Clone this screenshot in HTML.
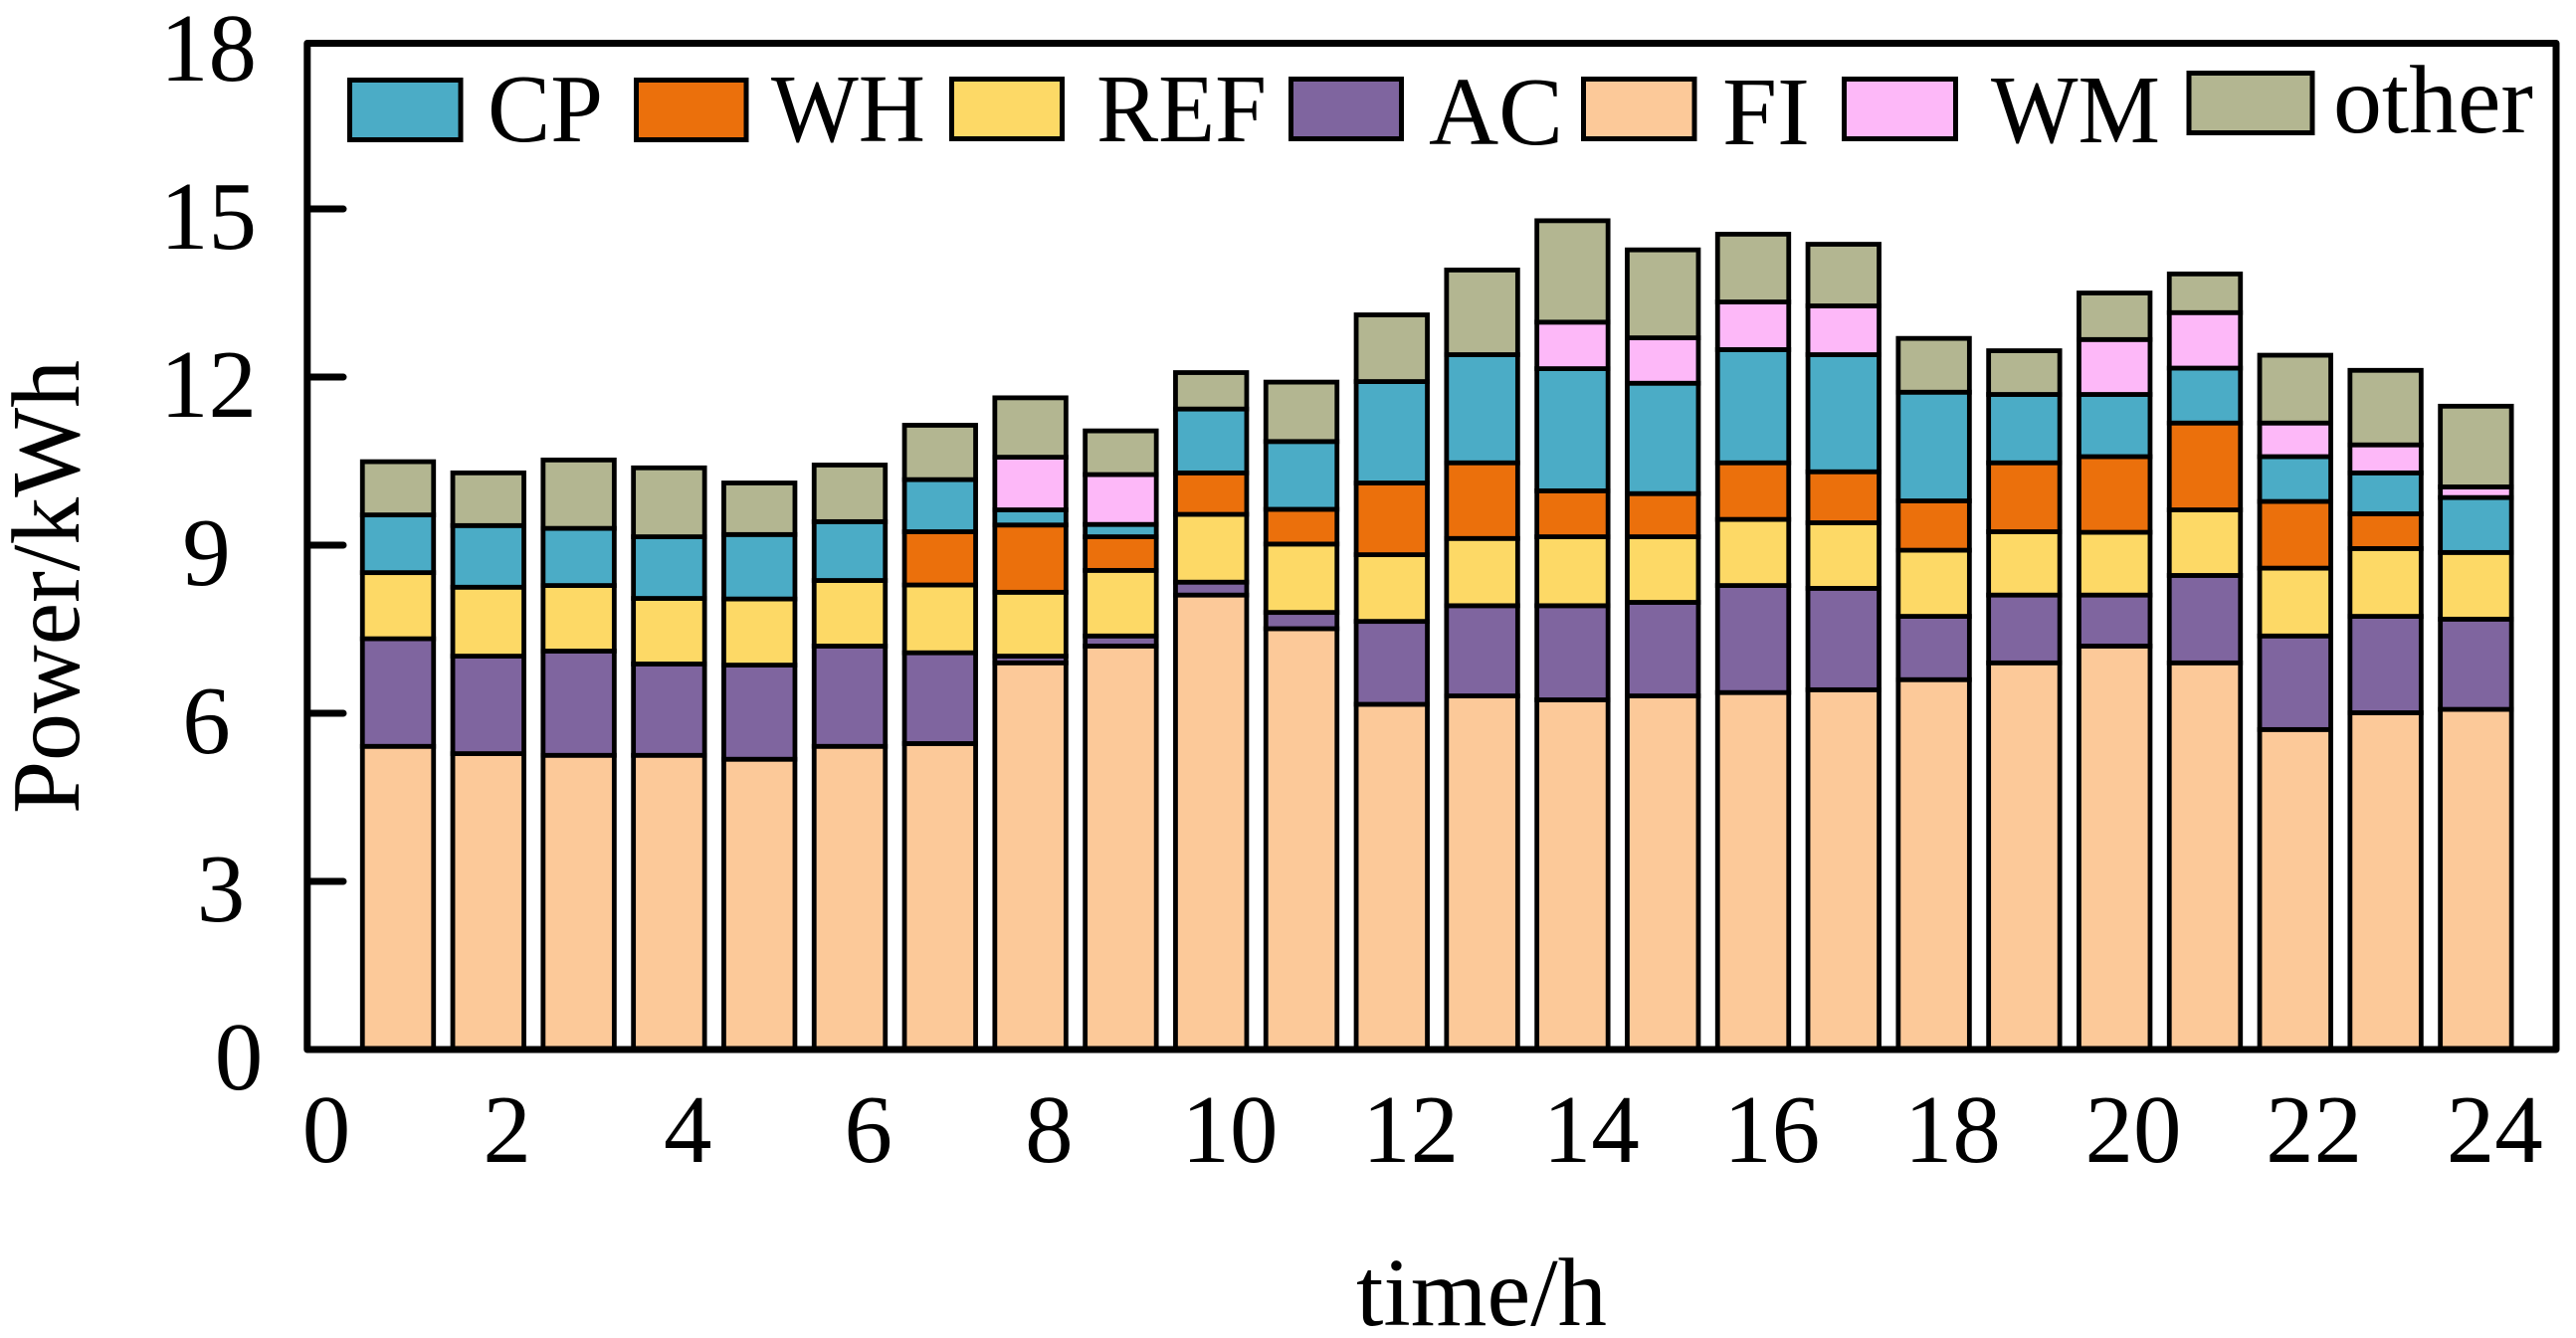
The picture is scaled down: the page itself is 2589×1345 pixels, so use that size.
<!DOCTYPE html>
<html lang="en">
<head>
<meta charset="utf-8">
<title>Stacked hourly power chart</title>
<style>
html,body{margin:0;padding:0;background:#fff;width:2589px;height:1345px;overflow:hidden}
svg{display:block}
text{font-family:"Liberation Serif",serif;font-size:97px;fill:#000}
</style>
</head>
<body>
<svg id="chart" xmlns="http://www.w3.org/2000/svg" width="2589" height="1345" viewBox="0 0 2589 1345">
  <g id="bars"></g>
  <g id="ticks"></g>
  <rect x="308.8" y="43.5" width="2260.2" height="1011.5" fill="none" stroke="#000" stroke-width="7" stroke-linejoin="round"/>
  <g id="tick-labels"></g>
  <text transform="translate(79 818) rotate(-90)" textLength="456" lengthAdjust="spacingAndGlyphs">Power/kWh</text>
  <text x="1363" y="1332" textLength="252" lengthAdjust="spacingAndGlyphs">time/h</text>
  <g>
    <g>
      <rect x="351.5" y="80.5" width="111.5" height="60" fill="#4BACC6" stroke="#000" stroke-width="5"/>
      <text x="490" y="142" textLength="116" lengthAdjust="spacingAndGlyphs">CP</text>
    </g>
    <g>
      <rect x="639.5" y="80.5" width="110.5" height="60" fill="#EB700C" stroke="#000" stroke-width="5"/>
      <text x="775" y="142" textLength="155" lengthAdjust="spacingAndGlyphs">WH</text>
    </g>
    <g>
      <rect x="956.5" y="79.5" width="111" height="60" fill="#FDD966" stroke="#000" stroke-width="5"/>
      <text x="1102" y="142" textLength="171" lengthAdjust="spacingAndGlyphs">REF</text>
    </g>
    <g>
      <rect x="1297.5" y="79.5" width="111" height="60" fill="#7F659F" stroke="#000" stroke-width="5"/>
      <text x="1436" y="145" textLength="135" lengthAdjust="spacingAndGlyphs">AC</text>
    </g>
    <g>
      <rect x="1591.5" y="79.5" width="111.5" height="60" fill="#FCC999" stroke="#000" stroke-width="5"/>
      <text x="1731" y="145" textLength="88" lengthAdjust="spacingAndGlyphs">FI</text>
    </g>
    <g>
      <rect x="1853.5" y="79.5" width="112" height="60" fill="#FDB8F8" stroke="#000" stroke-width="5"/>
      <text x="2001" y="143" textLength="170" lengthAdjust="spacingAndGlyphs">WM</text>
    </g>
    <g>
      <rect x="2200" y="73.5" width="124" height="60" fill="#B3B691" stroke="#000" stroke-width="5"/>
      <text x="2345" y="133" textLength="201" lengthAdjust="spacingAndGlyphs">other</text>
    </g>
  </g>
</svg>
<script>
const hours = [1,2,3,4,5,6,7,8,9,10,11,12,13,14,15,16,17,18,19,20,21,22,23,24];
const seriesFI = [5.41,5.28,5.25,5.25,5.18,5.41,5.46,6.90,7.20,8.11,7.51,6.16,6.31,6.24,6.31,6.37,6.42,6.60,6.90,7.20,6.90,5.71,6.01,6.07];
const seriesAC = [1.92,1.74,1.86,1.63,1.68,1.79,1.62,0.12,0.18,0.23,0.29,1.48,1.61,1.68,1.67,1.91,1.81,1.13,1.21,0.91,1.56,1.67,1.72,1.61];
const seriesREF = [1.18,1.23,1.17,1.17,1.18,1.17,1.21,1.14,1.17,1.21,1.22,1.19,1.20,1.23,1.17,1.18,1.17,1.18,1.13,1.12,1.17,1.21,1.21,1.19];
const seriesWH = [0,0,0,0,0,0,0.95,1.20,0.60,0.74,0.62,1.28,1.35,0.82,0.77,1.01,0.91,0.88,1.23,1.35,1.55,1.19,0.62,0];
const seriesCP = [1.03,1.10,1.02,1.10,1.15,1.05,0.93,0.27,0.22,1.14,1.21,1.81,1.93,2.18,1.97,2.02,2.09,1.94,1.22,1.11,0.98,0.80,0.73,0.98];
const seriesWM = [0,0,0,0,0,0,0,0.94,0.89,0,0,0,0,0.83,0.81,0.85,0.87,0,0,0.98,0.99,0.60,0.50,0.19];
const seriesOther = [0.95,0.94,1.22,1.23,0.92,1.01,0.97,1.06,0.78,0.65,1.06,1.19,1.51,1.81,1.57,1.21,1.10,0.96,0.78,0.83,0.69,1.21,1.33,1.44];
const yTickValues = [0,3,6,9,12,15,18];
const xTickValues = [0,2,4,6,8,10,12,14,16,18,20,22,24];

const NS = 'http://www.w3.org/2000/svg';
function xScale(h){ return 309.2 + 90.8 * h; }
function yScale(v){ return 1055 - 56.33 * v; }
function xLabelPos(h){ return 328 + 90.8 * h; }
function yLabelCenter(v){
  if (v === 0) return 240;
  if (v === 3) return 222;
  if (v < 12) return 207.5;
  return 209.5;
}
const BAR_WIDTH = 71.5;
const stack = [
  {key:'fi', values:seriesFI, color:'#FCC999'},
  {key:'ac', values:seriesAC, color:'#7F659F'},
  {key:'ref', values:seriesREF, color:'#FDD966'},
  {key:'wh', values:seriesWH, color:'#EB700C'},
  {key:'cp', values:seriesCP, color:'#4BACC6'},
  {key:'wm', values:seriesWM, color:'#FDB8F8'},
  {key:'other', values:seriesOther, color:'#B3B691'}
];

const barsGroup = document.getElementById('bars');
hours.forEach(function(h, i){
  let base = 0;
  stack.forEach(function(s){
    const v = s.values[i];
    if (v > 0) {
      const r = document.createElementNS(NS, 'rect');
      
      
      r.setAttribute('x', xScale(h) - BAR_WIDTH / 2);
      r.setAttribute('y', yScale(base + v));
      r.setAttribute('width', BAR_WIDTH);
      r.setAttribute('height', yScale(base) - yScale(base + v));
      r.setAttribute('fill', s.color);
      r.setAttribute('stroke', '#000');
      r.setAttribute('stroke-width', '4.8');
      barsGroup.appendChild(r);
    }
    base += v;
  });
});

const ticksGroup = document.getElementById('ticks');
const labelsGroup = document.getElementById('tick-labels');
yTickValues.forEach(function(v){
  if (v > 0 && v < 18) {
    const t = document.createElementNS(NS, 'line');
    
    
    t.setAttribute('x1', 310);
    t.setAttribute('x2', 345);
    t.setAttribute('y1', yScale(v));
    t.setAttribute('y2', yScale(v));
    t.setAttribute('stroke', '#000');
    t.setAttribute('stroke-width', '7');
    t.setAttribute('stroke-linecap', 'round');
    ticksGroup.appendChild(t);
  }
  const l = document.createElementNS(NS, 'text');
  
  
  l.setAttribute('x', yLabelCenter(v));
  l.setAttribute('y', yScale(v) + 40);
  l.setAttribute('text-anchor', 'middle');
  l.textContent = String(v);
  labelsGroup.appendChild(l);
});
xTickValues.forEach(function(h){
  const l = document.createElementNS(NS, 'text');
  
  
  l.setAttribute('x', xLabelPos(h));
  l.setAttribute('y', 1168);
  l.setAttribute('text-anchor', 'middle');
  l.textContent = String(h);
  labelsGroup.appendChild(l);
});
</script>
</body>
</html>
